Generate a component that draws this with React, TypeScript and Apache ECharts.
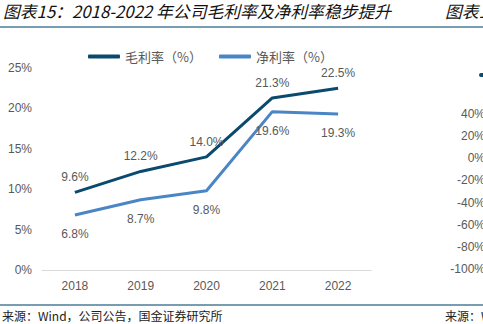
import React, { useEffect, useRef } from "react";
import * as echarts from "echarts";

const years = ["2018", "2019", "2020", "2021", "2022"];
const grossMargin = [9.6, 12.2, 14.0, 21.3, 22.5];
const netMargin = [6.8, 8.7, 9.8, 19.6, 19.3];
const seriesNames = ["毛利率（%）", "净利率（%）"];
const titleText = "图表15：2018-2022 年公司毛利率及净利率稳步提升";
const sourceText = "来源：Wind，公司公告，国金证券研究所";

const DARK = "#0a4a6e";
const LIGHT = "#4a86c6";
const GREY = "#595959";
const RULE = "#4b7c99";
const FONT = "'Liberation Sans', Arial, 'Noto Sans CJK SC', sans-serif";
const CJK = "'Noto Sans CJK SC', sans-serif";

export default function App() {
  const ref = useRef<HTMLDivElement>(null);
  useEffect(() => {
    if (!ref.current) return;
    const chart = echarts.init(ref.current, undefined, { renderer: "svg" });
    const fmt = (p: any) => Number(p.value).toFixed(1) + "%";
    const titleStyle = {
      fontSize: 16.8,
      fontStyle: "italic",
      fontWeight: "normal",
      fontFamily: CJK,
      fill: "#111111",
    };
    chart.setOption({
      animation: false,
      backgroundColor: "#ffffff",
      textStyle: { fontFamily: FONT },
      legend: {
        top: 45,
        left: 83,
        itemWidth: 32,
        itemHeight: 4,
        itemGap: 17,
        icon: "roundRect",
        data: seriesNames,
        textStyle: { fontFamily: CJK, fontSize: 13, color: GREY },
      },
      grid: [
        { left: 42, right: 112, top: 68, bottom: 54, outerBoundsMode: "none", containLabel: false },
        { left: 400, right: 43, top: 114, bottom: 55, outerBoundsMode: "none", containLabel: false },
      ],
      xAxis: [
        {
          type: "category",
          data: years,
          gridIndex: 0,
          axisLine: { lineStyle: { color: "#d9d9d9", width: 1 } },
          axisTick: { inside: true, length: 3, lineStyle: { color: "#d9d9d9" } },
          axisLabel: { color: GREY, fontSize: 12, margin: 10, fontFamily: FONT },
        },
        {
          type: "category",
          data: years,
          gridIndex: 1,
          show: false,
        },
      ],
      yAxis: [
        {
          type: "value",
          gridIndex: 0,
          min: 0,
          max: 25,
          interval: 5,
          axisLine: { show: false },
          axisTick: { show: false },
          splitLine: { show: false },
          axisLabel: { formatter: "{value}%", color: GREY, fontSize: 12, margin: 10, fontFamily: FONT },
        },
        {
          type: "value",
          gridIndex: 1,
          position: "right",
          min: -100,
          max: 40,
          interval: 20,
          axisLine: { show: false },
          axisTick: { show: false },
          splitLine: { show: false },
          axisLabel: {
            formatter: "{value}%",
            color: GREY,
            fontSize: 12,
            margin: 45,
            align: "right",
            fontFamily: FONT,
          },
        },
      ],
      series: [
        {
          name: seriesNames[0],
          type: "line",
          data: grossMargin,
          xAxisIndex: 0,
          yAxisIndex: 0,
          showSymbol: true,
          symbol: "circle",
          symbolSize: 0,
          color: DARK,
          lineStyle: { color: DARK, width: 3 },
          label: {
            show: true,
            position: "top",
            distance: 9,
            formatter: fmt,
            color: GREY,
            fontSize: 12,
            fontFamily: FONT,
          },
        },
        {
          name: seriesNames[1],
          type: "line",
          data: netMargin,
          xAxisIndex: 0,
          yAxisIndex: 0,
          showSymbol: true,
          symbol: "circle",
          symbolSize: 0,
          color: LIGHT,
          lineStyle: { color: LIGHT, width: 3 },
          label: {
            show: true,
            position: "bottom",
            distance: 13,
            formatter: fmt,
            color: GREY,
            fontSize: 12,
            fontFamily: FONT,
          },
        },
      ],
      graphic: [
        {
          type: "text",
          left: 3,
          top: 3,
          style: { text: titleText, ...titleStyle },
        },
        {
          type: "text",
          left: 445,
          top: 3,
          style: { text: "图表16", ...titleStyle },
        },
        {
          type: "line",
          shape: { x1: 0, y1: 27, x2: 483, y2: 27 },
          style: { stroke: RULE, lineWidth: 1.5 },
        },
        {
          type: "line",
          shape: { x1: 0, y1: 305, x2: 483, y2: 305 },
          style: { stroke: RULE, lineWidth: 1.5 },
        },
        {
          type: "text",
          left: 2,
          top: 309,
          style: { text: sourceText, fontSize: 12, fontFamily: CJK, fill: "#222222" },
        },
        {
          type: "text",
          left: 445,
          top: 309,
          style: { text: "来源：Wind", fontSize: 12, fontFamily: CJK, fill: "#222222" },
        },
        {
          type: "rect",
          shape: { x: 479, y: 73, width: 12, height: 4, r: 2 },
          style: { fill: DARK },
        },
      ],
    });
    return () => chart.dispose();
  }, []);
  return (
    <div
      ref={ref}
      style={{ position: "absolute", left: 0, top: 0, width: 483, height: 324 }}
    />
  );
}
